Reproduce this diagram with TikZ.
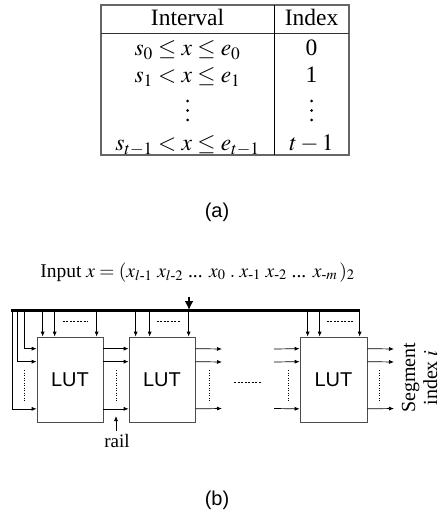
\documentclass[tikz,border=0pt]{standalone}
\usepackage{amsmath}
\usepackage{mathptmx}
\usepackage{fontspec}
\setmainfont{Liberation Serif}
\newfontfamily\helv{Liberation Sans}
\usetikzlibrary{arrows.meta,calc}
\begin{document}
\begin{tikzpicture}[x=1pt,y=-1pt,
  tcell/.style={anchor=base,inner sep=0pt,font=\fontsize{23.5}{27}\selectfont},
  lut/.style={draw=black!70,line width=0.7pt,minimum width=66pt,minimum height=85pt,inner sep=0pt,font=\helv\fontsize{20}{24}\selectfont},
  arr/.style={line width=0.7pt,-{Latex[length=5pt,width=4pt]}},
  dotv/.style={line width=0.8pt,dash pattern=on 1.2pt off 1.3pt},
  dashh/.style={line width=0.7pt,dash pattern=on 2pt off 1.5pt},
  captxt/.style={font=\helv\fontsize{20}{24}\selectfont,inner sep=0pt}]
\useasboundingbox (0,0) rectangle (442,513);
% ---------- table (a)
\draw[black!60,line width=1.3pt] (101,5) rectangle (349,155);
\draw[black!80,line width=0.8pt] (101,33) -- (349,33);
\draw[black,line width=0.9pt] (274,5) -- (274,155);
\node[tcell] (h1) at (187.5,26) {Interval};
\node[tcell] (h2) at (311.5,26) {Index};
\node[tcell] (r1) at (187.5,55.5) {$s_0 \le x \le e_0$};
\node[tcell] (i1) at (311.5,55.5) {0};
\node[tcell] (r2) at (187.5,82.5) {$s_1 < x \le e_1$};
\node[tcell] (i2) at (311.5,82.5) {1};
\foreach \xx in {187.5,311.5}
  \foreach \yy in {101,110.5,120}
    \fill (\xx,\yy) circle (1.5pt);
\node[tcell] (r4) at (187.5,150.5) {$s_{t-1} < x \le e_{t-1}$};
\node[tcell] (i4) at (311.5,150.5) {$t-1$};
\node[captxt] (capa) at (217,212) {(a)};
% ---------- figure (b)
\node[anchor=base,inner sep=0pt,font=\fontsize{19.5}{24}\selectfont] (inp) at (197.5,277)
  {Input $x = (x_{l\textrm{-}1}\ x_{l\textrm{-}2}$ ... $x_0 \;.\; x_{\textrm{-}1}\ x_{\textrm{-}2}$ ... $x_{\textrm{-}m}\,)_2$};
\coordinate (busL) at (11,310);
\coordinate (busR) at (360,310);
\coordinate (inTop) at (189,297);
\draw[line width=3pt] (busL) -- (busR);
\draw[line width=2.6pt,-{Latex[length=9pt,width=9pt]}] (inTop) -- (inTop |- busL);
\node[lut] (lut1) at (70,379.5) {LUT};
\node[lut] (lut2) at (162,379.5) {LUT};
\node[lut,minimum width=67pt] (lut3) at (333.5,379.5) {LUT};
% top inputs from bus
\foreach \n/\a/\b/\c in {lut1/6/18/60, lut2/7/21/60, lut3/8/20/60}{
  \foreach \d in {\a,\b,\c}
    \draw[arr] ($(\n.north west)+(\d,-27.5)$) -- ($(\n.north west)+(\d,0)$);
}
\draw[dashh] ($(lut1.north west)+(26,-15)$) -- ($(lut1.north west)+(51,-15)$);
\draw[dashh] ($(lut2.north west)+(28,-15)$) -- ($(lut2.north west)+(51,-15)$);
\draw[dashh] ($(lut3.north west)+(27,-15)$) -- ($(lut3.north west)+(54,-15)$);
% left side inputs of LUT1
\draw[arr] (12,310) |- ($(lut1.south west)+(0,-13.5)$);
\draw[arr] (17,310) |- ($(lut1.north west)+(0,25)$);
\draw[arr] (24,310) |- ($(lut1.north west)+(0,12)$);
\draw[dotv] (24,370) -- (24,402);
% LUT1 -> LUT2
\foreach \d in {12,25}
  \draw[arr] ($(lut1.north east)+(0,\d)$) -- ($(lut2.north west)+(0,\d)$);
\draw[arr] ($(lut1.south east)+(0,-13.5)$) -- ($(lut2.south west)+(0,-13.5)$);
\draw[dotv] (116,370) -- (116,402);
% LUT2 outputs
\coordinate (o2a) at (222,349);
\coordinate (o2b) at (222,362);
\coordinate (o2c) at (222,408.5);
\draw[arr] ($(lut2.north east)+(0,12)$) -- (o2a);
\draw[arr] ($(lut2.north east)+(0,25)$) -- (o2b);
\draw[arr] ($(lut2.south east)+(0,-13.5)$) -- (o2c);
\draw[dotv] (209,370) -- (209,402);
% middle gap
\draw[dashh] (234,382) -- (261,382);
% LUT3 inputs
\coordinate (i3a) at (274,349);
\coordinate (i3b) at (274,362);
\coordinate (i3c) at (274,408.5);
\draw[arr] (i3a) -- ($(lut3.north west)+(0,12)$);
\draw[arr] (i3b) -- ($(lut3.north west)+(0,25)$);
\draw[arr] (i3c) -- ($(lut3.south west)+(0,-13.5)$);
\draw[dotv] (288,370) -- (288,402);
% LUT3 outputs
\coordinate (o3a) at (394,349);
\coordinate (o3b) at (394,362);
\coordinate (o3c) at (394,408.5);
\draw[arr] ($(lut3.north east)+(0,12)$) -- (o3a);
\draw[arr] ($(lut3.north east)+(0,25)$) -- (o3b);
\draw[arr] ($(lut3.south east)+(0,-13.5)$) -- (o3c);
\draw[dotv] (379,370) -- (379,402);
% rail
\node[inner sep=0pt,font=\fontsize{19}{22}\selectfont] (rail) at (117,441) {rail};
\coordinate (railtip) at (116,416);
\draw[line width=0.7pt,-{Latex[length=5pt,width=4pt]}] (116,431) -- (railtip);
% segment index
\node[rotate=90,align=center,inner sep=0pt,font=\fontsize{20}{22}\selectfont] (seg) at (419.5,378) {Segment\\index $i$};
\node[captxt] (capb) at (217,500) {(b)};
\end{tikzpicture}
\end{document}
